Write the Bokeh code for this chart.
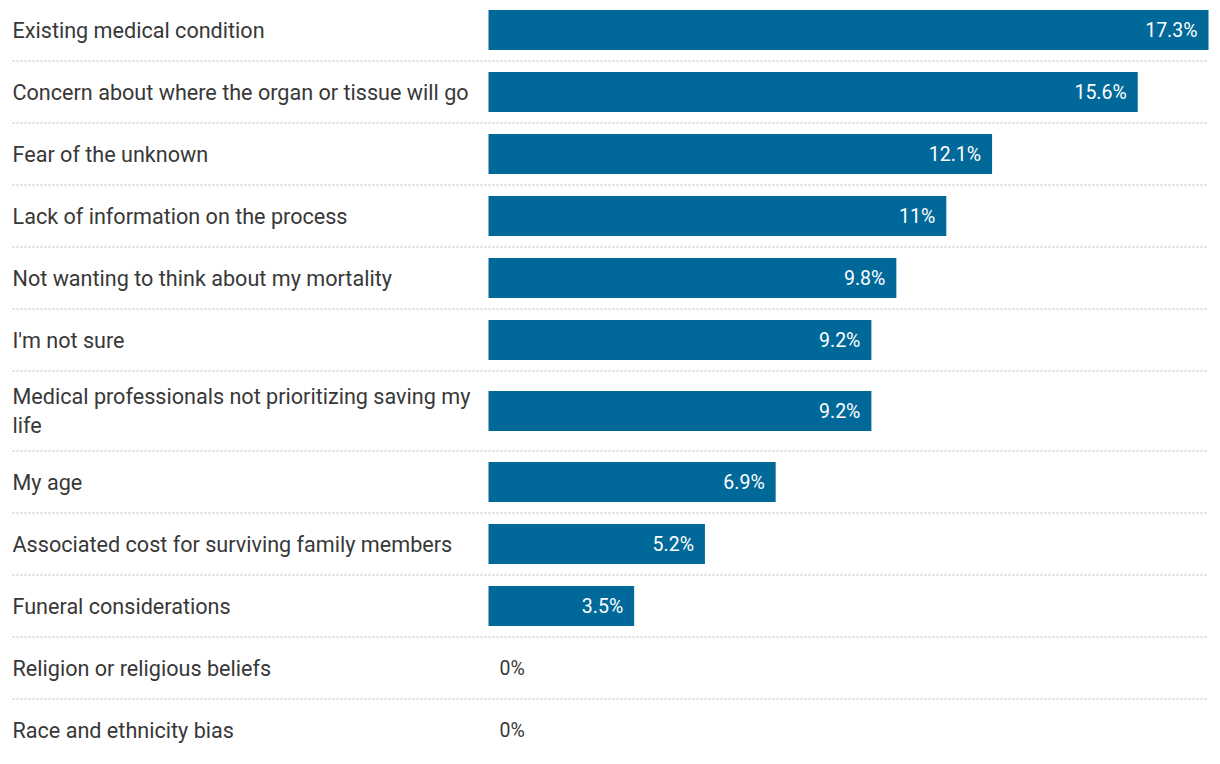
from bokeh.plotting import figure
from bokeh.models import Range1d, ColumnDataSource
from bokeh.core.properties import value
from bokeh.embed import file_html
from bokeh.resources import INLINE

categories = [
    "Existing medical condition",
    "Concern about where the organ or tissue will go",
    "Fear of the unknown",
    "Lack of information on the process",
    "Not wanting to think about my mortality",
    "I'm not sure",
    "Medical professionals not prioritizing saving my\nlife",
    "My age",
    "Associated cost for surviving family members",
    "Funeral considerations",
    "Religion or religious beliefs",
    "Race and ethnicity bias",
]
values = [17.3, 15.6, 12.1, 11.0, 9.8, 9.2, 9.2, 6.9, 5.2, 3.5, 0.0, 0.0]
value_labels = ["17.3%", "15.6%", "12.1%", "11%", "9.8%", "9.2%", "9.2%",
                "6.9%", "5.2%", "3.5%", "0%", "0%"]

W, H = 1212, 756
LABEL_W = 488          # px reserved for category labels
BAR_W = 720            # px for the longest bar
ROW_H = 62
EXTRA_LINE = 18
BAR_H = 40
FONT = "Roboto"

ppu = BAR_W / max(values)
x_start = -LABEL_W / ppu
x_end = (W - LABEL_W) / ppu

# row layout in pixel units (downward)
heights = [ROW_H + EXTRA_LINE * c.count("\n") for c in categories]
tops, centers, bottoms = [], [], []
y = 0.0
for h in heights:
    tops.append(y)
    centers.append(y + h / 2)
    bottoms.append(y + h)
    y += h

top_off = 1.5
p = figure(width=W, height=H, output_backend="svg", toolbar_location=None,
           x_range=Range1d(x_start, x_end),
           y_range=Range1d(top_off + H, top_off),
           x_axis_type=None, y_axis_type=None, min_border=0)
p.outline_line_color = None
p.xgrid.visible = False
p.ygrid.visible = False
p.background_fill_color = "white"
p.border_fill_color = "white"

sep_y = bottoms[:-1]
p.segment(x0=[x_start + 12 / ppu] * len(sep_y), x1=[max(values)] * len(sep_y),
          y0=sep_y, y1=sep_y, line_color="#d2d2d2", line_width=1.5, line_dash="2 2")

src = ColumnDataSource(dict(y=centers, v=values, cat=categories, lab=value_labels,
                            xl=[x_start] * len(values)))
p.hbar(y="y", left=0, right="v", height=BAR_H, source=src, fill_color="#00699a",
       line_color=None)

p.text(x="xl", y="y", text="cat", source=src, x_offset=12, text_align="left",
       text_baseline="middle", text_font=value(FONT), text_font_size="21.6px",
       text_color="#383838", text_line_height=1.14)

pos = [i for i, v in enumerate(values) if v > 0]
zero = [i for i, v in enumerate(values) if v == 0]
p.text(x=[values[i] for i in pos], y=[centers[i] for i in pos],
       text=[value_labels[i] for i in pos], x_offset=-11, text_align="right",
       text_baseline="middle", text_font=value(FONT), text_font_size="19.5px",
       text_color="white")
p.text(x=[values[i] for i in zero], y=[centers[i] for i in zero],
       text=[value_labels[i] for i in zero], x_offset=11, text_align="left",
       text_baseline="middle", text_font=value(FONT), text_font_size="19.5px",
       text_color="#383838")

open("out.html", "w").write(file_html(p, INLINE))
